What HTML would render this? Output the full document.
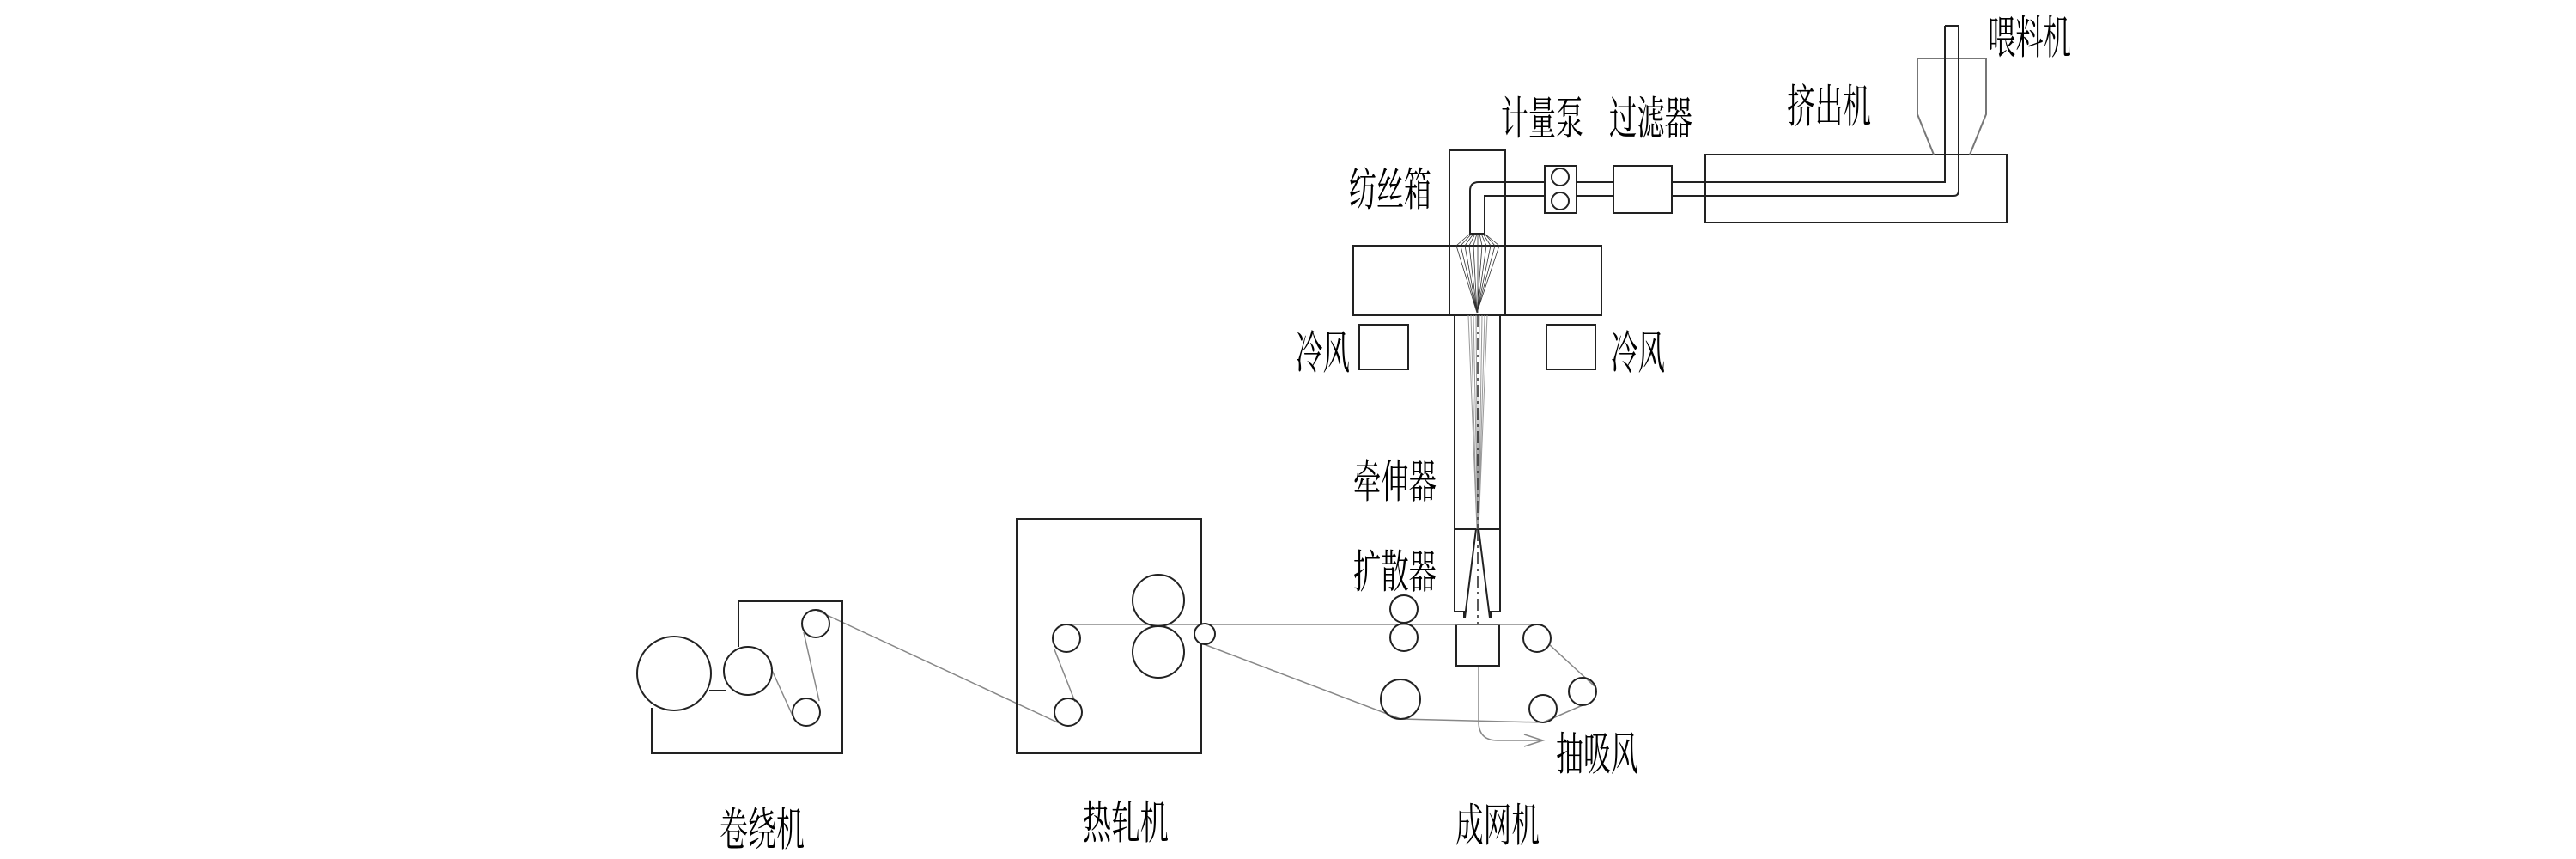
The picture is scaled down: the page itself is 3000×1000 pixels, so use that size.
<!DOCTYPE html>
<html><head><meta charset="utf-8"><style>
html,body{margin:0;padding:0;background:#fff;}
svg{display:block;}
text{font-family:"Liberation Serif","Noto Serif CJK SC","Noto Sans CJK SC",serif;font-size:53px;fill:#000;}
</style></head><body>
<svg width="3000" height="1000" viewBox="0 0 3000 1000" xmlns="http://www.w3.org/2000/svg">
<g fill="none" stroke="#222" stroke-width="2">
<rect x="1986" y="180" width="351" height="79"/>
<path d="M2233 68 L2313 68 L2313 133 L2294 180 M2233 68 L2233 133 L2252 180" stroke="#777"/>
<path d="M2265 30 L2281 30 M2265 30 L2265 212 L1753 212 M2281 30 L2281 222 Q2281 228 2275 228 L1753 228"/>
<rect x="1879" y="193" width="68" height="55" fill="#fff"/>
<rect x="1799" y="193" width="37" height="55" fill="#fff"/>
<circle cx="1817" cy="206" r="10"/>
<circle cx="1817" cy="234" r="10"/>
<path d="M1836 212 L1879 212 M1836 228 L1879 228" />
<rect x="1688" y="175" width="65" height="192"/>
<rect x="1576" y="286" width="289" height="81"/>
<path d="M1753 212 L1722 212 Q1712 212 1712 222 L1712 272 L1729 272 L1729 228 L1753 228"/>
<rect x="1583" y="378" width="57" height="52"/>
<rect x="1801" y="378" width="57" height="52"/>
<path d="M1694 367 L1694 712 L1705 712 L1705 719 M1747 367 L1747 712 L1736 712 L1736 719 M1694 616 L1747 616"/>
<path d="M1719 616 L1706 719 M1722 616 L1735 719" />
<path d="M1721 616 L1721 727" stroke-dasharray="14 5 3 5" stroke-width="1.5"/>
<rect x="1696" y="727" width="50" height="48"/>
</g>
<g stroke="#333" stroke-width="0.8" fill="none">
<path d="M1712 272 L1696 286 L1720 364 M1714 272 L1701 286 L1720 364 M1716 272 L1706 286 L1720 364 M1718 272 L1711 286 L1720 364 M1720 272 L1716 286 L1720 364 M1721 272 L1721 364 M1723 272 L1726 286 L1720 364 M1725 272 L1731 286 L1720 364 M1727 272 L1736 286 L1720 364 M1729 272 L1741 286 L1720 364 M1729 272 L1746 286 L1720 364"/>
</g>
<g stroke="#999" stroke-width="1" fill="none">
<path d="M1710 367 L1720 616 M1713 367 L1720 616 M1716 367 L1721 616 M1719 367 L1721 616 M1723 367 L1721 616 M1726 367 L1722 616 M1729 367 L1722 616 M1732 367 L1722 616"/>
</g>
<path d="M1721 367 L1721 616" stroke="#333" stroke-width="1.5" stroke-dasharray="14 5 3 5"/>
<g stroke="#888" stroke-width="1.5" fill="none">
<path d="M1242 727 L1790 727"/>
<path d="M1804 750 L1857 799 M1843 821 L1797 841 L1631 837 L1402 750"/>
<path d="M950 710 L1236 843"/>
<path d="M936 736 L954 816 M898 778 L923 833"/>
<path d="M1228 756 L1252 817"/>
<path d="M1722 777 L1722 840 Q1722 862 1744 862 L1797 862 M1775 855 L1797 862 L1775 869"/>
</g>
<g fill="none" stroke="#222" stroke-width="2">
<circle cx="1635" cy="709" r="16"/>
<circle cx="1635" cy="742" r="16"/>
<circle cx="1631" cy="814" r="23"/>
<circle cx="1790" cy="743" r="16"/>
<circle cx="1843" cy="805" r="16"/>
<circle cx="1797" cy="825" r="16"/>
<rect x="1184" y="604" width="215" height="273"/>
<circle cx="1349" cy="699" r="30"/>
<circle cx="1349" cy="759" r="30"/>
<circle cx="1242" cy="743" r="16"/>
<circle cx="1244" cy="829" r="16"/>
<circle cx="1403" cy="738" r="12" fill="#fff"/>
<path d="M860 753 L860 700 L981 700 L981 877 L759 877 L759 824"/>
<path d="M826 804 L846 804"/>
<circle cx="785" cy="784" r="43"/>
<circle cx="871" cy="781" r="28"/>
<circle cx="950" cy="726" r="16"/>
<circle cx="939" cy="829" r="16"/>
</g>
<text x="2315" y="62" textLength="97" lengthAdjust="spacingAndGlyphs">喂料机</text>
<text x="2081" y="142" textLength="98" lengthAdjust="spacingAndGlyphs">挤出机</text>
<text x="1748" y="156" textLength="96" lengthAdjust="spacingAndGlyphs">计量泵</text>
<text x="1874" y="156" textLength="97" lengthAdjust="spacingAndGlyphs">过滤器</text>
<text x="1571" y="239" textLength="96" lengthAdjust="spacingAndGlyphs">纺丝箱</text>
<text x="1509" y="429" textLength="63" lengthAdjust="spacingAndGlyphs">冷风</text>
<text x="1876" y="429" textLength="63" lengthAdjust="spacingAndGlyphs">冷风</text>
<text x="1576" y="579" textLength="97" lengthAdjust="spacingAndGlyphs">牵伸器</text>
<text x="1576" y="684" textLength="97" lengthAdjust="spacingAndGlyphs">扩散器</text>
<text x="1812" y="896" textLength="96" lengthAdjust="spacingAndGlyphs">抽吸风</text>
<text x="1695" y="979" textLength="98" lengthAdjust="spacingAndGlyphs">成网机</text>
<text x="1261" y="976" textLength="100" lengthAdjust="spacingAndGlyphs">热轧机</text>
<text x="838" y="984" textLength="99" lengthAdjust="spacingAndGlyphs">卷绕机</text>
</svg>
</body></html>
